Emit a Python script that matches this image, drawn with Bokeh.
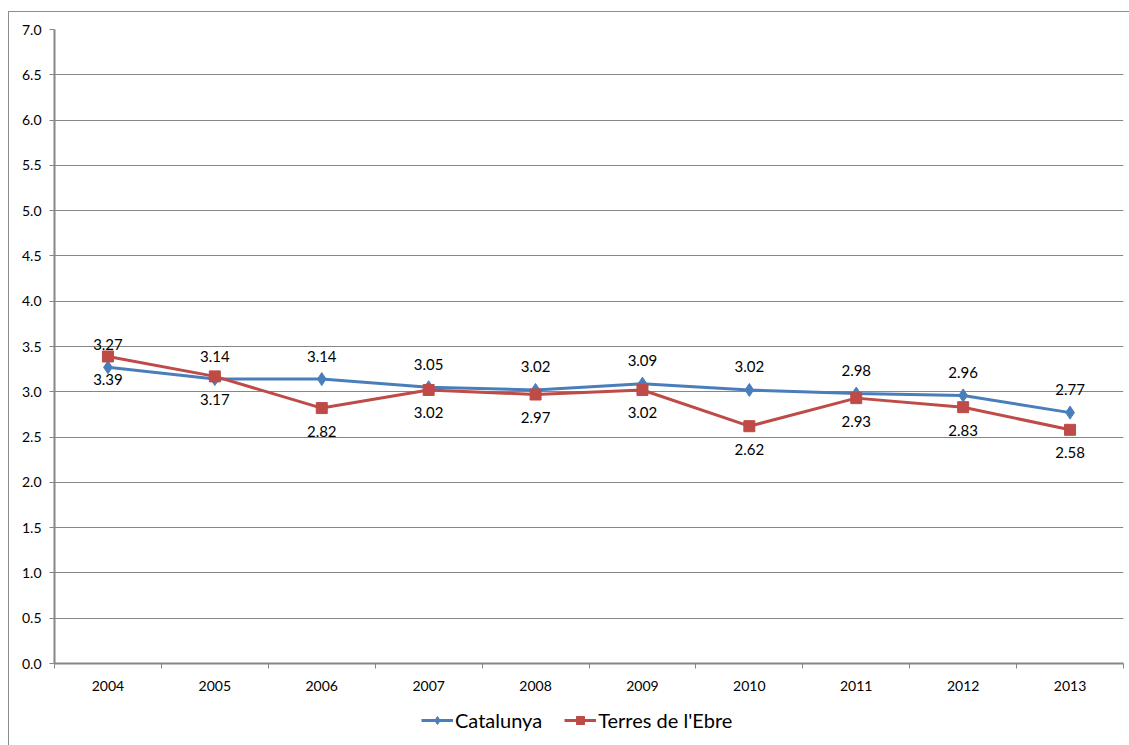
from bokeh.plotting import figure
from bokeh.layouts import column
from bokeh.models import Range1d, FixedTicker, Legend, LegendItem, NumeralTickFormatter
from bokeh.core.properties import value
from bokeh.embed import file_html
from bokeh.resources import INLINE

years = ["2004", "2005", "2006", "2007", "2008", "2009", "2010", "2011", "2012", "2013"]
catalunya = [3.27, 3.14, 3.14, 3.05, 3.02, 3.09, 3.02, 2.98, 2.96, 2.77]
terres = [3.39, 3.17, 2.82, 3.02, 2.97, 3.02, 2.62, 2.93, 2.83, 2.58]
y_ticks = [0.0, 0.5, 1.0, 1.5, 2.0, 2.5, 3.0, 3.5, 4.0, 4.5, 5.0, 5.5, 6.0, 6.5, 7.0]
series_names = ["Catalunya", "Terres de l'Ebre"]

FONT = "Lato"
BLUE = "#4a7ebb"
RED = "#be4b48"
GRID = "#868686"

xs = [i + 0.5 for i in range(len(years))]

p = figure(output_backend="svg", toolbar_location=None,
           x_range=Range1d(0, len(years)), y_range=Range1d(0, 7),
           min_border_left=45, min_border_right=5, min_border_top=17, min_border_bottom=36)
p.frame_width = 1069
p.frame_height = 634
p.outline_line_color = None
p.background_fill_color = "white"
p.border_fill_color = "white"

# y axis
p.yaxis.ticker = FixedTicker(ticks=y_ticks)
p.yaxis.formatter = NumeralTickFormatter(format="0.0")
p.yaxis.axis_line_color = GRID
p.yaxis.axis_line_width = 2
p.yaxis.major_tick_line_color = GRID
p.yaxis.major_tick_out = 5
p.yaxis.major_tick_in = 0
p.yaxis.minor_tick_line_color = None
p.yaxis.major_label_text_font = FONT
p.yaxis.major_label_text_font_size = "14px"
p.yaxis.major_label_text_color = "black"
p.yaxis.major_label_standoff = 8

# x axis: labels at centres, ticks at category boundaries
p.xaxis.ticker = FixedTicker(ticks=xs, minor_ticks=list(range(len(years) + 1)))
p.xaxis.major_label_overrides = {x: y for x, y in zip(xs, years)}
p.xaxis.axis_line_color = GRID
p.xaxis.axis_line_width = 2
p.xaxis.major_tick_line_color = None
p.xaxis.minor_tick_line_color = GRID
p.xaxis.minor_tick_out = 5
p.xaxis.minor_tick_in = 0
p.xaxis.major_label_text_font = FONT
p.xaxis.major_label_text_font_size = "14px"
p.xaxis.major_label_text_color = "black"
p.xaxis.major_label_standoff = 11

p.xgrid.grid_line_color = None
p.ygrid.ticker = FixedTicker(ticks=y_ticks)
p.ygrid.grid_line_color = GRID
p.ygrid.grid_line_width = 1

p.line(xs, catalunya, line_color=BLUE, line_width=3)
p.scatter(xs, catalunya, marker="diamond", size=13, fill_color=BLUE, line_color=BLUE)
p.line(xs, terres, line_color=RED, line_width=3)
p.scatter(xs, terres, marker="square", size=11, fill_color=RED, line_color=RED)

p.text(xs, catalunya, text=[f"{v:.2f}" for v in catalunya], text_font=value(FONT),
       text_font_size="15px", text_align="center", text_baseline="middle",
       text_color="black", y_offset=-23)
p.text(xs, terres, text=[f"{v:.2f}" for v in terres], text_font=value(FONT),
       text_font_size="15px", text_align="center", text_baseline="middle",
       text_color="black", y_offset=23)

# legend strip below the chart (series drawn out of its visible range, only the legend shows)
lg = figure(width=1120, height=46, output_backend="svg", toolbar_location=None,
            x_axis_type=None, y_axis_type=None, min_border=0,
            x_range=Range1d(0, len(years)), y_range=Range1d(100, 101))
lg.outline_line_color = None
lg.border_fill_color = "white"
lg.background_fill_color = "white"
r1l = lg.line(xs, catalunya, line_color=BLUE, line_width=3)
r1m = lg.scatter(xs, catalunya, marker="diamond", size=13, fill_color=BLUE, line_color=BLUE)
r2l = lg.line(xs, terres, line_color=RED, line_width=3)
r2m = lg.scatter(xs, terres, marker="square", size=11, fill_color=RED, line_color=RED)

legend = Legend(items=[LegendItem(label=series_names[0], renderers=[r1l, r1m]),
                       LegendItem(label=series_names[1], renderers=[r2l, r2m])],
                location=(367, 13), orientation="horizontal",
                label_text_font=FONT, label_text_font_size="20px",
                label_text_color="black",
                glyph_width=32, glyph_height=20, label_standoff=2, spacing=22,
                border_line_color=None, background_fill_alpha=0,
                padding=4, margin=0)
lg.add_layout(legend, "center")

layout = column(p, lg, spacing=0)
layout.styles = {"margin-left": "8px", "margin-top": "11px",
                 "border-left": "1px solid #8c8c8c", "border-top": "1px solid #8c8c8c"}

open("out.html", "w").write(file_html(layout, INLINE))
